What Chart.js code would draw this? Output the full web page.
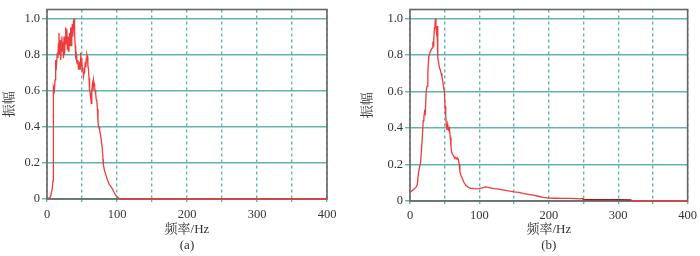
<!DOCTYPE html>
<html><head><meta charset="utf-8">
<script src="https://cdn.jsdelivr.net/npm/chart.js@4.4.0/dist/chart.umd.min.js"></script>
<style>
html,body{margin:0;padding:0;background:#fff;}
#wrap{position:relative;width:700px;height:256px;overflow:hidden;}
.c{position:absolute;top:0;width:350px;height:256px;}
</style></head><body>
<div id="wrap">
<div class="c" style="left:0"><canvas id="ca" width="350" height="256"></canvas></div>
<div class="c" style="left:350px"><canvas id="cb" width="350" height="256"></canvas></div>
</div>
<script>
const freqA = [0,3,5,7.6,8.6,9,9.3,10.5,11.5,12.4,13.5,14.8,15.6,16.3,17.1,17.8,18.6,19.5,20.3,21.1,21.9,22.7,23.5,24.3,25.1,25.9,26.7,27.5,28.3,29,29.8,30.6,31.4,32.2,33,33.8,34.6,35.4,36.2,37,37.8,38.6,39.4,40.2,41,41.8,42.5,43.3,44.1,44.9,45.7,46.5,47.3,48,48.8,49.6,50.5,51.3,52.2,53,53.8,54.6,55.4,56.2,57,57.6,58.4,59.2,60,60.8,61.6,62.4,63.2,64,64.8,65.6,66.4,67.2,68,68.8,69.6,70.4,71.2,72,72.8,73.6,74.3,75.2,76.7,78,79,80,80.5,82,83.8,86,88.6,91,93.3,95.5,98,100,102.9,106,150,200,250,300,350,400];
const ampA  = [0.005,0.005,0.012,0.06,0.1,0.4,0.62,0.6,0.66,0.77,0.74,0.81,0.78,0.86,0.92,0.8,0.88,0.77,0.83,0.9,0.82,0.87,0.78,0.9,0.8,0.88,0.95,0.86,0.94,0.83,0.9,0.82,0.86,0.92,0.85,0.95,0.85,0.93,0.97,0.9,0.98,1.0,0.93,0.85,0.79,0.8,0.76,0.75,0.77,0.72,0.73,0.76,0.72,0.81,0.75,0.78,0.71,0.73,0.68,0.7,0.72,0.76,0.73,0.78,0.8,0.79,0.74,0.72,0.67,0.6,0.59,0.56,0.53,0.6,0.63,0.6,0.66,0.64,0.62,0.6,0.58,0.55,0.54,0.5,0.43,0.4,0.4,0.38,0.35,0.31,0.28,0.22,0.19,0.16,0.138,0.11,0.084,0.07,0.057,0.04,0.021,0.012,0.004,0,0,0,0,0,0,0];
const freqB = [0,4.3,9,10.5,12.4,15.2,17.6,19,20,21,22,23.3,24.5,25.7,27,28.3,29.5,30.7,31.9,32.9,33.6,34.3,35.2,36,36.7,37.4,38,39,40,41.2,42.4,43.6,44.8,46,47,48.6,49.5,50.5,51.5,52.4,53.3,54.3,55.5,56.7,58,59,60,61.4,62.5,63.5,64.5,66,67.5,68.5,69.5,71,71.9,73.5,75.7,78,80.5,83,85.2,88,92.4,96,99.5,104,109,114,121,128,135,142,150,157,164,171,178,185,192,200,210,220,230,240,245,248,250,260,280,300,319,320,350,400];
const ampB  = [0.047,0.06,0.077,0.09,0.16,0.21,0.34,0.44,0.46,0.49,0.48,0.6,0.63,0.7,0.79,0.81,0.82,0.83,0.84,0.875,0.85,0.89,0.95,0.97,1.0,0.96,0.93,0.96,0.785,0.76,0.73,0.72,0.7,0.68,0.66,0.62,0.6,0.52,0.47,0.41,0.39,0.42,0.39,0.4,0.35,0.3,0.27,0.256,0.25,0.24,0.235,0.24,0.23,0.235,0.23,0.2,0.16,0.14,0.12,0.1,0.086,0.078,0.072,0.07,0.068,0.067,0.068,0.072,0.077,0.073,0.068,0.065,0.06,0.055,0.05,0.047,0.041,0.036,0.032,0.026,0.02,0.016,0.015,0.014,0.014,0.013,0.012,0.015,0.008,0.007,0.007,0.007,0.006,0,0,0];
const xTickValues = [0,50,100,150,200,250,300,350,400];
const xTickLabels = ['0','','100','','200','','300','','400'];
const yTickValues = [0,0.2,0.4,0.6,0.8,1.0];
const yTickLabels = ['0','0.2','0.4','0.6','0.8','1.0'];
const panelLabels = ['(a)','(b)'];
const xTitle = '频率/Hz';
const yTitle = '振幅';
const darkRangeB = [247,319.5];

const SERIF = "'Liberation Serif','Noto Serif CJK SC','Noto Sans CJK SC',serif";
const TEAL = '#63b3ae';
const RED = '#ee3b3b';

const framePlugin = {
  id:'frame',
  beforeDatasetsDraw(chart){
    const {ctx, chartArea:a} = chart;
    ctx.save();
    ctx.strokeStyle = '#666';
    ctx.lineWidth = 1.6;
    ctx.setLineDash([]);
    ctx.strokeRect(a.left, a.top, a.right - a.left, a.bottom - a.top);
    ctx.restore();
  }
};

function makeChart(id, freq, amp, label, L, darkRange){
  const data = freq.map((f,i)=>({x:f, y:amp[i]}));
  return new Chart(document.getElementById(id), {
    type:'line',
    data:{datasets:[{
      data, borderColor:RED, borderWidth:1.3, pointRadius:0, tension:0, fill:false, clip:false,
      segment:{borderColor:(c)=>{
        if(!darkRange) return RED;
        const x0=c.p0.parsed.x, x1=c.p1.parsed.x;
        return (x0>=darkRange[0] && x1<=darkRange[1]) ? '#b01010' : RED;
      }}
    }]},
    options:{
      responsive:false, animation:false, devicePixelRatio:1,
      layout:{padding:{left:0, top:L.top, right:L.right, bottom:0}},
      plugins:{legend:{display:false}, tooltip:{enabled:false}},
      scales:{
        x:{
          type:'linear', min:0, max:400,
          afterBuildTicks:(s)=>{ s.ticks = xTickValues.map(v=>({value:v})); },
          afterFit:(s)=>{ s.height = L.xh; },
          ticks:{autoSkip:false, maxRotation:0, minRotation:0, padding:L.xpad, color:'#333',
            font:{family:SERIF, size:12.5},
            callback:(v)=>{ const i = xTickValues.indexOf(v); return i>=0 ? xTickLabels[i] : ''; }},
          grid:{color:TEAL, lineWidth:1.4, tickLength:4, drawTicks:true, tickBorderDash:[3,3]},
          border:{display:false, dash:[3,3]},
          title:{display:true, text:[xTitle, label], color:'#333',
            font:{family:SERIF, size:13, lineHeight:1.3}, padding:{top:0,bottom:1.5}}
        },
        y:{
          type:'linear', min:0, max:1.05,
          afterBuildTicks:(s)=>{ s.ticks = yTickValues.map(v=>({value:v})); },
          afterFit:(s)=>{ s.width = L.yw; },
          ticks:{padding:2, color:'#333', font:{family:SERIF, size:12.5},
            callback:(v)=>{ const i = yTickValues.findIndex(t=>Math.abs(t-v)<1e-9); return i>=0 ? yTickLabels[i] : ''; }},
          grid:{color:TEAL, lineWidth:1.4, tickLength:5},
          border:{display:false},
          title:{display:true, text:yTitle, color:'#333',
            font:{family:SERIF, size:13, lineHeight:1.2}, padding:{top:L.ytp, bottom:0}}
        }
      }
    },
    plugins:[framePlugin]
  });
}

makeChart('ca', freqA, ampA, panelLabels[0], {top:4, right:23, xh:57, yw:47, ytp:2.2, xpad:4}, null);
makeChart('cb', freqB, ampB, panelLabels[1], {top:5, right:10, xh:55, yw:60, ytp:10.2, xpad:3}, darkRangeB);
</script>
</body></html>
